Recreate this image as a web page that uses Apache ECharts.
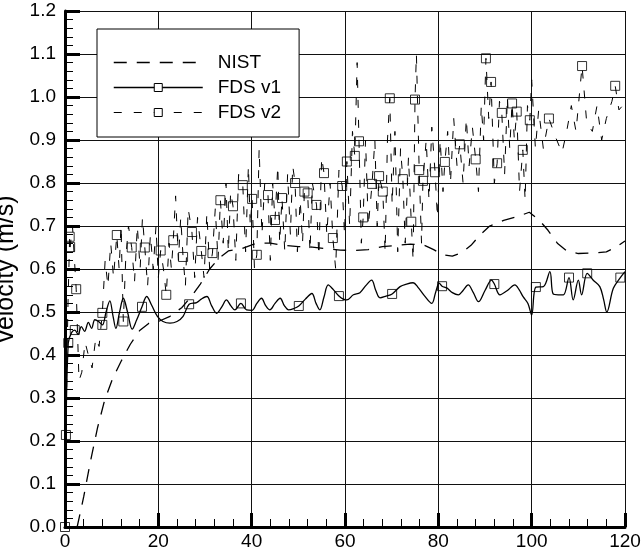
<!DOCTYPE html>
<html><head><meta charset="utf-8">
<script src="https://cdn.jsdelivr.net/npm/echarts@6/dist/echarts.min.js"></script>
<style>html,body{margin:0;padding:0;background:#fff}#c{width:643px;height:555px}</style>
</head><body><div id="c"></div>
<script>
// ---- data ----
const seriesNames = ['NIST', 'FDS v1', 'FDS v2'];
const xRange = [0, 120];
const yRange = [0, 1.2];
const xStep = 20;
const yStep = 0.1;

const nist = [[2.6,0],[4,0.07],[5.5,0.155],[7,0.232],[8.5,0.295],[10.2,0.345],[12,0.385],[14,0.425],[16,0.457],[18,0.474],[20,0.478],[22.5,0.49],[25,0.51],[27,0.535],[29,0.565],[31,0.6],[33,0.625],[35,0.642],[38,0.648],[41,0.66],[44,0.66],[47,0.655],[50,0.652],[53,0.651],[56,0.647],[59,0.644],[62,0.643],[65,0.645],[68,0.652],[71,0.655],[74,0.658],[77,0.655],[79,0.645],[81,0.633],[83,0.63],[85,0.638],[87,0.655],[89,0.68],[91,0.7],[94,0.713],[97,0.722],[99.5,0.732],[101.5,0.715],[103.5,0.69],[105.5,0.66],[107.5,0.642],[110,0.636],[113,0.637],[116,0.64],[118,0.65],[120,0.665]];

const fdsV1 = [[0,0],[0.2,0.214],[0.7,0.428],[1.4,0.452],[2.1,0.458],[2.8,0.448],[3.5,0.466],[4.2,0.455],[5.0,0.476],[5.7,0.462],[6.4,0.482],[7.2,0.478],[8.0,0.47],[8.8,0.5],[9.6,0.526],[10.3,0.49],[10.9,0.462],[11.7,0.5],[12.5,0.532],[13.4,0.5],[14.4,0.46],[15.3,0.48],[16.5,0.512],[17.5,0.536],[18.6,0.515],[19.8,0.49],[21.0,0.478],[22.5,0.474],[24.0,0.478],[25.3,0.49],[26.6,0.518],[28.2,0.522],[29.2,0.53],[30.4,0.536],[31.4,0.515],[32.5,0.497],[33.6,0.512],[34.6,0.528],[35.5,0.515],[36.4,0.505],[37.7,0.52],[38.9,0.505],[40.1,0.504],[41.1,0.52],[42.1,0.532],[43.0,0.515],[43.9,0.505],[45.0,0.52],[46.1,0.532],[47.0,0.515],[47.9,0.505],[49.0,0.508],[50.1,0.514],[51.5,0.53],[52.9,0.543],[53.8,0.52],[54.6,0.505],[55.5,0.535],[56.4,0.563],[57.5,0.552],[58.7,0.537],[59.6,0.53],[60.4,0.528],[61.8,0.54],[63.2,0.545],[64.5,0.562],[65.7,0.574],[66.6,0.55],[67.5,0.533],[68.8,0.537],[70.1,0.542],[71.8,0.559],[73.2,0.565],[74.6,0.568],[75.6,0.558],[77.0,0.538],[78.6,0.52],[79.4,0.545],[80.2,0.567],[80.8,0.56],[81.8,0.556],[83.0,0.545],[84.3,0.54],[85.3,0.55],[86.4,0.563],[87.5,0.545],[88.6,0.524],[90.0,0.55],[91.4,0.574],[92.0,0.565],[93.2,0.54],[94.8,0.55],[96.4,0.563],[97.3,0.552],[98.2,0.535],[99.2,0.52],[100.0,0.493],[100.9,0.558],[102.5,0.559],[103.9,0.594],[104.6,0.542],[105.7,0.54],[106.8,0.54],[108.0,0.58],[108.9,0.528],[110.0,0.574],[110.7,0.54],[111.9,0.59],[113.2,0.574],[114.6,0.559],[115.4,0.53],[116.1,0.5],[117.5,0.555],[119.0,0.58],[120.0,0.594]];

const fdsV1Marks = [[0,0],[0.7,0.428],[2.1,0.458],[8.0,0.47],[16.5,0.512],[26.6,0.518],[37.7,0.52],[50.1,0.514],[58.7,0.537],[70.1,0.542],[80.8,0.56],[92.0,0.565],[100.9,0.558],[108.0,0.58],[111.9,0.59],[119.0,0.58]];

const fdsV2 = [[0,0],[0.2,0.214],[0.6,0.5],[1.0,0.675],[1.1,0.651],[1.6,0.7],[2.4,0.553],[3.0,0.34],[3.6,0.36],[4.3,0.43],[5.0,0.4],[5.8,0.37],[6.6,0.44],[7.3,0.42],[8.0,0.498],[8.6,0.62],[9.2,0.56],[9.8,0.66],[10.4,0.58],[11.1,0.679],[11.6,0.6],[12.0,0.7],[12.5,0.478],[13.0,0.62],[13.6,0.7],[14.3,0.65],[14.9,0.57],[15.5,0.7],[16.1,0.6],[16.6,0.72],[17.1,0.65],[17.7,0.56],[18.3,0.68],[18.9,0.6],[19.5,0.7],[20.0,0.58],[20.5,0.643],[21.1,0.6],[21.7,0.54],[22.3,0.66],[22.8,0.6],[23.2,0.667],[23.7,0.77],[24.3,0.62],[24.8,0.72],[25.3,0.628],[25.8,0.56],[26.4,0.74],[27.2,0.686],[27.8,0.58],[28.4,0.72],[29.2,0.642],[29.8,0.58],[30.4,0.73],[31.0,0.6],[31.6,0.637],[32.2,0.74],[32.8,0.62],[33.3,0.76],[33.9,0.66],[34.5,0.8],[35.0,0.64],[35.5,0.78],[36.0,0.746],[36.6,0.62],[37.2,0.82],[38.1,0.795],[38.7,0.64],[39.3,0.84],[39.7,0.7],[40.1,0.763],[40.6,0.6],[41.1,0.633],[41.6,0.88],[42.2,0.68],[42.8,0.8],[43.5,0.772],[44.0,0.62],[44.5,0.8],[45.0,0.714],[45.6,0.84],[46.0,0.66],[46.5,0.765],[47.1,0.64],[47.7,0.82],[48.3,0.68],[48.8,0.84],[49.3,0.80],[49.8,0.64],[50.4,0.76],[50.9,0.66],[51.3,0.78],[52.0,0.776],[52.5,0.64],[53.0,0.8],[53.9,0.749],[54.4,0.63],[55.0,0.86],[55.5,0.823],[56.1,0.68],[56.8,0.8],[57.4,0.672],[58.0,0.6],[58.7,0.83],[59.4,0.793],[59.9,0.68],[60.4,0.85],[61.0,0.7],[61.6,0.92],[62.1,0.863],[62.6,1.08],[63.0,0.897],[63.5,0.66],[63.9,0.72],[64.4,0.9],[65.0,0.7],[65.8,0.798],[66.4,0.9],[66.9,0.7],[67.3,0.816],[68.1,0.78],[68.6,0.64],[69.1,0.9],[69.6,0.997],[70.1,0.75],[70.7,0.92],[71.3,0.64],[71.9,0.88],[72.4,0.809],[72.9,0.66],[73.6,0.86],[74.2,0.71],[74.6,0.62],[75.0,0.994],[75.3,1.1],[75.9,0.83],[76.4,0.66],[76.7,0.805],[77.4,0.9],[78.0,0.76],[78.6,0.93],[79.3,0.825],[79.8,0.72],[80.4,0.9],[81.0,0.78],[81.4,0.849],[82.0,0.92],[82.6,0.8],[83.3,0.95],[84.0,0.84],[84.6,0.89],[85.3,0.8],[86.0,0.95],[86.6,0.84],[87.3,0.93],[88.0,0.855],[88.6,0.78],[89.2,0.98],[89.7,0.9],[90.2,1.09],[90.8,0.95],[91.3,1.035],[92.0,0.8],[92.6,0.846],[93.1,0.99],[93.6,0.963],[94.2,0.82],[94.8,1.0],[95.3,0.88],[95.8,0.985],[96.3,0.9],[96.8,0.966],[97.4,0.78],[98.1,0.877],[98.6,0.76],[99.1,0.98],[99.6,0.946],[100.0,1.04],[100.8,0.88],[101.5,0.97],[102.5,0.88],[103.7,0.95],[105.0,0.91],[106.5,0.87],[107.5,0.92],[108.5,0.98],[109.5,0.92],[110.8,1.072],[111.8,0.94],[113.0,0.92],[114.0,0.98],[115.0,0.9],[116.0,0.95],[117.2,0.99],[117.9,1.026],[118.7,0.97],[119.5,0.98],[120.0,1.0]];

const fdsV2Marks = [[0.2,0.214],[1.0,0.675],[1.1,0.651],[2.4,0.553],[8.0,0.498],[11.1,0.679],[12.5,0.478],[14.3,0.65],[17.1,0.65],[20.5,0.643],[21.7,0.54],[23.2,0.667],[25.3,0.628],[27.2,0.686],[29.2,0.642],[31.6,0.637],[33.3,0.76],[36.0,0.746],[38.1,0.795],[40.1,0.763],[41.1,0.633],[43.5,0.772],[45.0,0.714],[46.5,0.765],[49.3,0.80],[51.3,0.78],[52.0,0.776],[53.9,0.749],[55.5,0.823],[57.4,0.672],[59.4,0.793],[60.4,0.85],[62.1,0.863],[63.0,0.897],[63.9,0.72],[65.8,0.798],[67.3,0.816],[68.1,0.78],[69.6,0.997],[72.4,0.809],[74.2,0.71],[75.0,0.994],[75.9,0.83],[76.7,0.805],[79.3,0.825],[81.4,0.849],[84.6,0.89],[88.0,0.855],[90.2,1.09],[91.3,1.035],[92.6,0.846],[93.6,0.963],[95.8,0.985],[96.8,0.966],[98.1,0.877],[99.6,0.946],[103.7,0.95],[110.8,1.072],[117.9,1.026]];

// ---- chart ----
const FONT = 'Liberation Sans, Arial, sans-serif';
const chart = echarts.init(document.getElementById('c'), null, {renderer: 'canvas'});
const markStyle = {color: 'rgba(0,0,0,0)', borderColor: '#000', borderWidth: 1};
chart.setOption({
  animation: false,
  backgroundColor: '#fff',
  textStyle: {fontFamily: FONT, color: '#000'},
  grid: {left: 65, right: 18, top: 11, bottom: 28, containLabel: false, outerBoundsMode: 'none'},
  legend: {
    orient: 'vertical', left: 97, top: 29,
    padding: [24, 18, 15, 16], itemGap: 6, itemWidth: 89, itemHeight: 10,
    backgroundColor: '#fff', borderColor: '#000', borderWidth: 1, borderRadius: 0,
    selectedMode: false,
    textStyle: {fontFamily: FONT, fontSize: 19, color: '#000', padding: [0, 0, 0, 10]},
    itemStyle: {borderWidth: 1},
    data: [
      {name: seriesNames[0], itemStyle: {opacity: 0}, lineStyle: {width: 1.3}},
      {name: seriesNames[1], lineStyle: {width: 1.5}},
      {name: seriesNames[2], lineStyle: {width: 1}}
    ]
  },
  xAxis: {
    type: 'value', min: xRange[0], max: xRange[1], interval: xStep,
    axisLine: {show: true, onZero: false, lineStyle: {color: '#000', width: 3}},
    axisTick: {show: true, inside: true, length: 14, lineStyle: {color: '#000', width: 3}},
    minorTick: {show: true, splitNumber: 5, length: 8, lineStyle: {color: '#000', width: 1}},
    splitLine: {show: true, lineStyle: {color: '#111', width: 1}},
    axisLabel: {fontFamily: FONT, fontSize: 19, color: '#000', margin: 5}
  },
  yAxis: {
    type: 'value', min: yRange[0], max: yRange[1], interval: yStep,
    name: 'velocity (m/s)', nameLocation: 'middle', nameRotate: 90, nameGap: 32,
    nameTextStyle: {fontFamily: FONT, fontSize: 25, color: '#000'},
    axisLine: {show: true, onZero: false, lineStyle: {color: '#000', width: 3}},
    axisTick: {show: true, inside: true, length: 15, lineStyle: {color: '#000', width: 3}},
    minorTick: {show: true, splitNumber: 5, length: 8, lineStyle: {color: '#000', width: 1}},
    splitLine: {show: true, lineStyle: {color: '#111', width: 1}},
    axisLabel: {fontFamily: FONT, fontSize: 19, color: '#000', margin: 9,
      formatter: v => v.toFixed(1)}
  },
  series: [
    {name: seriesNames[0], type: 'line', data: nist, symbol: 'none', z: 3,
      lineStyle: {color: '#000', width: 1.3, type: [13, 10]}},
    {name: seriesNames[1], type: 'line', data: fdsV1, symbol: 'rect', symbolSize: 9,
      showSymbol: false, smooth: 0.35, z: 4,
      lineStyle: {color: '#000', width: 1.3},
      itemStyle: {color: '#fff', borderColor: '#000', borderWidth: 1}},
    {name: seriesNames[1], type: 'scatter', data: fdsV1Marks, symbol: 'rect', symbolSize: 9, z: 6,
      itemStyle: markStyle},
    {name: seriesNames[2], type: 'line', data: fdsV2, symbol: 'rect', symbolSize: 9,
      showSymbol: false, z: 3,
      lineStyle: {color: '#000', width: 1, type: [8, 12]},
      itemStyle: {color: '#fff', borderColor: '#000', borderWidth: 1}},
    {name: seriesNames[2], type: 'scatter', data: fdsV2Marks, symbol: 'rect', symbolSize: 9, z: 6,
      itemStyle: markStyle}
  ]
});
</script></body></html>
